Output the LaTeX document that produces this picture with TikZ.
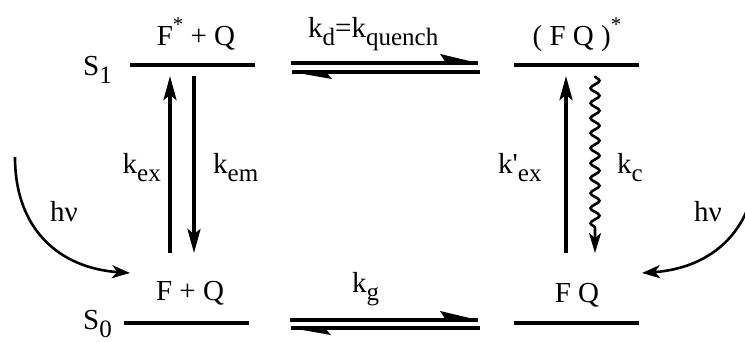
\documentclass[tikz,border=0pt]{standalone}
\usepackage{fontspec}
\setmainfont{Liberation Serif}
\newfontfamily\tmsfont{Liberation Serif}
\usetikzlibrary{arrows.meta,decorations.pathmorphing}
\newcommand\lsub[1]{\raisebox{-0.3em}{\fontsize{25}{25}\selectfont #1}}
\newcommand\hsup[1]{\raisebox{0.45em}{\fontsize{21}{21}\selectfont #1}}
\begin{document}
\begin{tikzpicture}[x=1pt,y=-1pt,
  lbl/.style={font=\tmsfont\fontsize{29}{33}\selectfont, inner sep=0pt},
  level/.style={line width=4pt},
  eqline/.style={line width=3.6pt},
  rate/.style={line width=3.6pt, -{Stealth[length=24pt,width=13pt,inset=5pt]}},
  wavy/.style={line width=2.6pt, -{Stealth[length=20pt,width=12pt,inset=5pt]},
    decorate, decoration={snake, amplitude=4.5pt, segment length=15pt, post length=20pt}},
  photon/.style={line width=2.6pt, -{Stealth[length=18pt,width=13pt,inset=5pt]}}]
\useasboundingbox (0,0) rectangle (745,341);
% texts
\node[lbl, anchor=base] (fsq) at (196,45) {F\hsup{*} + Q};
\node[lbl, anchor=base] (fqs) at (577,45) {( F Q )\hsup{*}};
\node[lbl, anchor=base] (fq0) at (190,300) {F + Q};
\node[lbl, anchor=base] (fqg) at (577,302) {F Q};
\node[lbl, anchor=base west] (s1) at (83,75) {S\lsub{1}};
\node[lbl, anchor=base west] (s0) at (83,329) {S\lsub{0}};
\node[lbl, anchor=base east] (kex) at (161,173) {k\lsub{ex}};
\node[lbl, anchor=base west] (kem) at (213,173) {k\lsub{em}};
\node[lbl, anchor=base west] (kexp) at (498,173) {k\textquotesingle\lsub{ex}};
\node[lbl, anchor=base west] (kc) at (617,173) {k\lsub{c}};
\node[lbl, anchor=base west] (kd) at (308,37) {k\lsub{d}=k\lsub{quench}};
\node[lbl, anchor=base west] (kg) at (352,292) {k\lsub{g}};
\node[lbl, anchor=base] (hvl) at (64,221) {hν};
\node[lbl, anchor=base] (hvr) at (708,221) {hν};
% levels
\coordinate (l1a) at (130,65); \coordinate (l1b) at (255,65);
\coordinate (r1a) at (514,65); \coordinate (r1b) at (639,65);
\coordinate (l0a) at (124,323); \coordinate (l0b) at (249,323);
\coordinate (r0a) at (514,323); \coordinate (r0b) at (639,323);
\draw[level] (l1a) -- (l1b);
\draw[level] (r1a) -- (r1b);
\draw[level] (l0a) -- (l0b);
\draw[level] (r0a) -- (r0b);
% vertical arrows
\coordinate (exb) at (170,253); \coordinate (ext) at (170,76);
\coordinate (emt) at (194,76); \coordinate (emb) at (194,253);
\coordinate (xpb) at (566,253); \coordinate (xpt) at (566,76);
\coordinate (kct) at (595,76); \coordinate (kcb) at (595,253);
\draw[rate] (exb) -- (ext);
\draw[rate] (emt) -- (emb);
\draw[rate] (xpb) -- (xpt);
\draw[wavy] (kct) -- (kcb);
% equilibria
\coordinate (tua) at (291,63); \coordinate (tub) at (478,63);
\coordinate (tla) at (292,72); \coordinate (tlb) at (480,72);
\coordinate (bua) at (290,320); \coordinate (bub) at (478,320);
\coordinate (bla) at (291,328); \coordinate (blb) at (480,328);
\draw[eqline] (tua) -- (tub);
\fill (tub) -- ++(-38,-9) -- ++(6,9) -- cycle;
\draw[eqline] (tla) -- (tlb);
\fill (tla) -- ++(40,7) -- ++(-6,-7) -- cycle;
\draw[eqline] (bua) -- (bub);
\fill (bub) -- ++(-38,-9) -- ++(6,9) -- cycle;
\draw[eqline] (bla) -- (blb);
\fill (bla) -- ++(40,7) -- ++(-6,-7) -- cycle;
% photons
\coordinate (pls) at (15,157); \coordinate (ple) at (130,273);
\coordinate (prs) at (757,157); \coordinate (pre) at (642,273);
\draw[photon] (pls) .. controls (15,230) and (60,268) .. (ple);
\draw[photon] (prs) .. controls (757,230) and (712,268) .. (pre);
\end{tikzpicture}
\end{document}
